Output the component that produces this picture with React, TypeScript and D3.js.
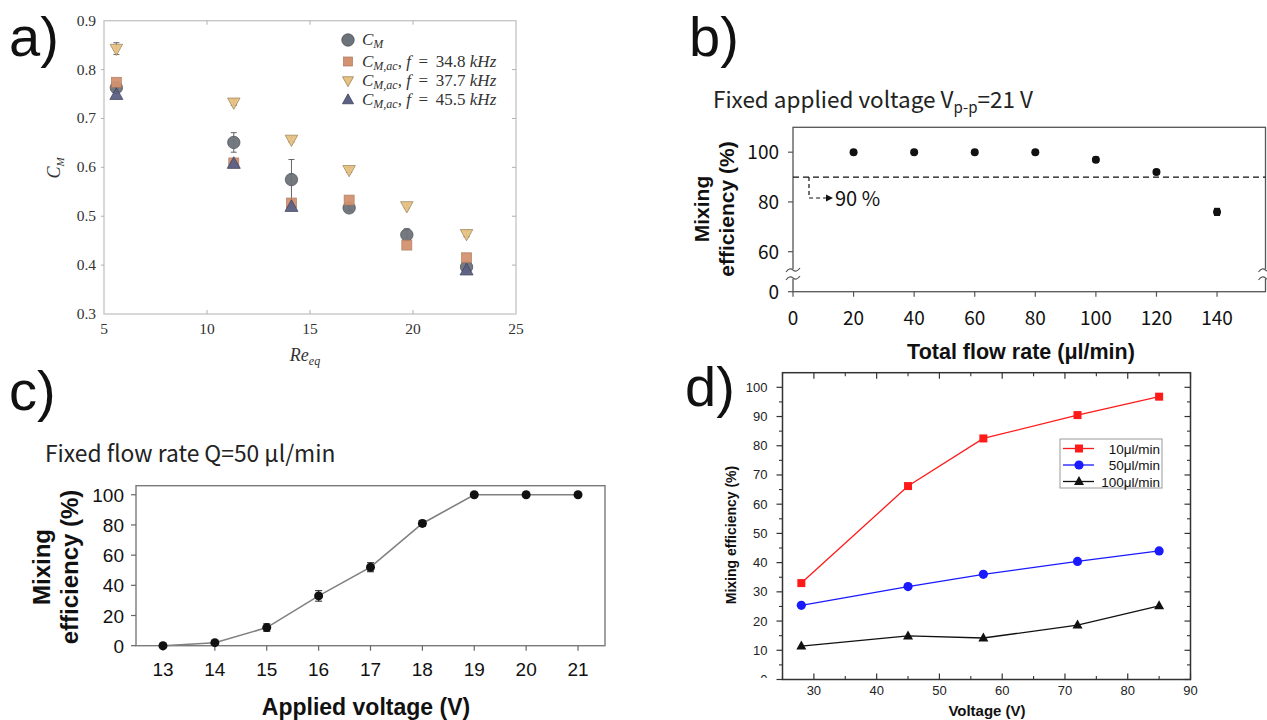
import React from 'react';
import * as d3 from 'd3';

// ---------- Panel a data ----------
const reA = [5.6, 11.3, 14.1, 16.9, 19.7, 22.6];
const cmVals = [0.763, 0.651, 0.575, 0.517, 0.462, 0.396];
const cmErr = [0.008, 0.02, 0.041, 0.005, 0.012, 0.008];
const ac348 = [0.774, 0.609, 0.527, 0.533, 0.441, 0.415];
const ac377 = [0.843, 0.733, 0.657, 0.595, 0.521, 0.464];
const ac377Err = [0.012, 0.006, 0.005, 0.005, 0.004, 0.006];
const ac455: (number | null)[] = [0.748, 0.607, 0.519, null, null, 0.389];
const xTicksA = [5, 10, 15, 20, 25];
const yTicksA = [0.3, 0.4, 0.5, 0.6, 0.7, 0.8, 0.9];
const legendFreqA = ['34.8', '37.7', '45.5'];

// ---------- Panel b data ----------
const flowB = [20, 40, 60, 80, 100, 120, 140];
const effB = [100, 100, 100, 100, 97, 92, 76];
const errB = [0.5, 0.5, 0.5, 0.5, 1.0, 0.8, 1.4];
const xTicksB = [0, 20, 40, 60, 80, 100, 120, 140];
const yTicksB = [0, 60, 80, 100];
const thresholdB = 90;

// ---------- Panel c data ----------
const voltC = [13, 14, 15, 16, 17, 18, 19, 20, 21];
const effC = [0, 2, 12, 33, 52, 81, 100, 100, 100];
const errC = [0.5, 1, 2.5, 3.5, 3, 2, 0.5, 0.5, 0.5];
const yTicksC = [0, 20, 40, 60, 80, 100];

// ---------- Panel d data ----------
const voltD = [28, 45, 57, 72, 85];
const eff10 = [33.0, 66.2, 82.5, 90.5, 96.8];
const eff50 = [25.4, 31.8, 36.0, 40.4, 44.0];
const eff100 = [11.4, 14.9, 14.2, 18.6, 25.2];
const legendD = ['10\u03bcl/min', '50\u03bcl/min', '100\u03bcl/min'];
const xTicksD = [30, 40, 50, 60, 70, 80, 90];
const yTicksD = [0, 10, 20, 30, 40, 50, 60, 70, 80, 90, 100];

const SERIF = '"Liberation Serif", "DejaVu Serif", serif';
const KR = '"Noto Sans CJK KR", "Noto Sans", sans-serif';
const ARIAL = '"Liberation Sans", Arial, sans-serif';

function tri(x: number, y: number, w: number, down = false) {
  const h = w * 0.9;
  const s = down ? -1 : 1;
  return `M${x},${y - s * h * 0.62}L${x + w / 2},${y + s * h * 0.38}L${x - w / 2},${y + s * h * 0.38}Z`;
}

function PanelA() {
  const x = d3.scaleLinear().domain([5, 25]).range([104, 516]);
  const y = d3.scaleLinear().domain([0.3, 0.9]).range([314, 20.7]);
  const [x0, x1] = x.range();
  const [y0, y1] = y.range();
  const cCol = '#6d737a', sCol = '#d3926f', dCol = '#e8c283', uCol = '#5c6186';
  const errBar = (xv: number, lo: number, hi: number, key: string) => (
    <g key={key} stroke="#555" strokeWidth={0.9}>
      <line x1={x(xv)} x2={x(xv)} y1={y(lo)} y2={y(hi)} />
      <line x1={x(xv) - 3} x2={x(xv) + 3} y1={y(hi)} y2={y(hi)} />
      <line x1={x(xv) - 3} x2={x(xv) + 3} y1={y(lo)} y2={y(lo)} />
    </g>
  );
  const legendRows = [
    { k: 'c', yy: 40, f: '' },
    { k: 's', yy: 61.5, f: legendFreqA[0] },
    { k: 'd', yy: 80.5, f: legendFreqA[1] },
    { k: 'u', yy: 100, f: legendFreqA[2] },
  ];
  const lx = 348;
  return (
    <g>
      <rect x={x0} y={y1} width={x1 - x0} height={y0 - y1} fill="white" stroke="#c4c4c4" strokeWidth={1.3} />
      {xTicksA.slice(1, -1).map(t => (
        <g key={'xt' + t} stroke="#b0b0b0" strokeWidth={1}>
          <line x1={x(t)} x2={x(t)} y1={y0} y2={y0 - 4} />
          <line x1={x(t)} x2={x(t)} y1={y1} y2={y1 + 4} />
        </g>
      ))}
      {yTicksA.slice(1, -1).map(t => (
        <g key={'yt' + t} stroke="#b0b0b0" strokeWidth={1}>
          <line x1={x0} x2={x0 - 3} y1={y(t)} y2={y(t)} />
          <line x1={x1} x2={x1 - 4} y1={y(t)} y2={y(t)} />
        </g>
      ))}
      {xTicksA.map(t => (
        <text key={'xl' + t} x={x(t)} y={334} textAnchor="middle" fontFamily={SERIF} fontSize={15.5} fill="#333">{t}</text>
      ))}
      {yTicksA.map(t => (
        <text key={'yl' + t} x={96} y={y(t) + 5} textAnchor="end" fontFamily={SERIF} fontSize={15.5} fill="#333">{t.toFixed(1)}</text>
      ))}
      <text transform={`translate(60,168) rotate(-90)`} textAnchor="middle" fontFamily={SERIF} fontSize={18} fontStyle="italic" fill="#333">
        C<tspan dy={4} fontSize={11}>M</tspan>
      </text>
      <text x={305} y={361} textAnchor="middle" fontFamily={SERIF} fontSize={18} fontStyle="italic" fill="#333">
        Re<tspan dy={4} fontSize={12}>eq</tspan>
      </text>
      {reA.map((r, i) => errBar(r, cmVals[i] - cmErr[i], cmVals[i] + cmErr[i], 'ce' + i))}
      {reA.map((r, i) => errBar(r, ac377[i] - ac377Err[i], ac377[i] + ac377Err[i], 'de' + i))}
      {reA.map((r, i) => (
        <circle key={'c' + i} cx={x(r)} cy={y(cmVals[i])} r={6.2} fill={cCol} stroke="#4a4e55" strokeWidth={0.8} opacity={0.95} />
      ))}
      {reA.map((r, i) => (
        <rect key={'s' + i} x={x(r) - 5} y={y(ac348[i]) - 5} width={10} height={10} fill={sCol} stroke="#a8785f" strokeWidth={0.7} opacity={0.95} />
      ))}
      {reA.map((r, i) => (
        <path key={'d' + i} d={tri(x(r), y(ac377[i]), 12.5, true)} fill={dCol} stroke="#9c8457" strokeWidth={0.8} opacity={0.95} />
      ))}
      {reA.map((r, i) => {
        const v = ac455[i];
        if (v === null) return null;
        return <path key={'u' + i} d={tri(x(r), y(v), 13)} fill={uCol} stroke="#3d4058" strokeWidth={0.8} opacity={0.95} />;
      })}
      {legendRows.map(row => (
        <g key={row.k}>
          {row.k === 'c' && <circle cx={lx} cy={row.yy} r={6.2} fill={cCol} stroke="#4a4e55" strokeWidth={0.8} />}
          {row.k === 's' && <rect x={lx - 4.5} y={row.yy - 4.5} width={9} height={9} fill={sCol} stroke="#a8785f" strokeWidth={0.7} />}
          {row.k === 'd' && <path d={tri(lx, row.yy, 11, true)} fill={dCol} stroke="#9c8457" strokeWidth={0.8} />}
          {row.k === 'u' && <path d={tri(lx, row.yy, 11)} fill={uCol} stroke="#3d4058" strokeWidth={0.8} />}
          <text x={362} y={row.yy + 5} fontFamily={SERIF} fontSize={17} fill="#333">
            <tspan fontStyle="italic">C</tspan>
            {row.k === 'c' ? (
              <tspan dy={3} fontSize={12} fontStyle="italic">M</tspan>
            ) : (
              <>
                <tspan dy={3} fontSize={12} fontStyle="italic">M,ac</tspan>
                <tspan dy={-3}>, </tspan>
                <tspan fontStyle="italic">f</tspan>
                <tspan>{'\u2009 = \u2009'}{row.f} </tspan>
                <tspan fontStyle="italic">kHz</tspan>
              </>
            )}
          </text>
        </g>
      ))}
    </g>
  );
}

function PanelB() {
  const x = d3.scaleLinear().domain([0, 156]).range([793, 1265.5]);
  const y = d3.scaleLinear().domain([0, 60, 110]).range([291.7, 251.7, 127.3]);
  const left = 793, right = 1265.5, top = 127.3, bottom = 291.7;
  const breakY = 274;
  const wave = (cx: number, cy: number) => `M${cx - 7},${cy + 2} q3.5,-5 7,-2 t7,-2`;
  return (
    <g>
      <rect x={left} y={top} width={right - left} height={bottom - top} fill="white" stroke="#555" strokeWidth={1.3} />
      <rect x={left - 2} y={breakY - 5} width={4} height={10} fill="white" />
      <rect x={right - 2} y={breakY - 5} width={4} height={10} fill="white" />
      {[left, right].map(bx => (
        <g key={'br' + bx} fill="none" stroke="#555" strokeWidth={1.1}>
          <path d={wave(bx, breakY - 4)} />
          <path d={wave(bx, breakY + 4)} />
        </g>
      ))}
      {xTicksB.map(t => (
        <g key={'xt' + t}>
          <line x1={x(t)} x2={x(t)} y1={bottom} y2={bottom + 5} stroke="#555" strokeWidth={1.2} />
          <text x={x(t)} y={325} textAnchor="middle" fontFamily={KR} fontSize={19} fill="#111">{t}</text>
        </g>
      ))}
      {yTicksB.map(t => (
        <g key={'yt' + t}>
          <line x1={left} x2={left - 5} y1={y(t)} y2={y(t)} stroke="#555" strokeWidth={1.2} />
          <text x={779} y={y(t) + 7} textAnchor="end" fontFamily={KR} fontSize={19} fill="#111">{t}</text>
        </g>
      ))}
      <line x1={left} x2={right} y1={y(thresholdB)} y2={y(thresholdB)} stroke="#111" strokeWidth={1.3} strokeDasharray="6,4" />
      <path d={`M809,${y(thresholdB)}V198H827`} fill="none" stroke="#111" strokeWidth={1.2} strokeDasharray="4,3" />
      <path d="M826,194.5L833,198L826,201.5Z" fill="#111" />
      <text x={835} y={206} fontFamily={KR} fontSize={20} fill="#111">{thresholdB} %</text>
      {flowB.map((f, i) => (
        <g key={'p' + i}>
          <line x1={x(f)} x2={x(f)} y1={y(effB[i] - errB[i])} y2={y(effB[i] + errB[i])} stroke="#111" strokeWidth={1.2} />
          <line x1={x(f) - 3} x2={x(f) + 3} y1={y(effB[i] - errB[i])} y2={y(effB[i] - errB[i])} stroke="#111" strokeWidth={1.2} />
          <line x1={x(f) - 3} x2={x(f) + 3} y1={y(effB[i] + errB[i])} y2={y(effB[i] + errB[i])} stroke="#111" strokeWidth={1.2} />
          <circle cx={x(f)} cy={y(effB[i])} r={4} fill="#111" />
        </g>
      ))}
      <text x={713} y={108} fontFamily={KR} fontSize={22.5} fill="#222">
        Fixed applied voltage V<tspan dy={5} fontSize={15}>p-p</tspan><tspan dy={-5}>=21 V</tspan>
      </text>
      <text transform="translate(709,209) rotate(-90)" textAnchor="middle" fontFamily={ARIAL} fontWeight="bold" fontSize={21} fill="#111">Mixing</text>
      <text transform="translate(734,209) rotate(-90)" textAnchor="middle" fontFamily={ARIAL} fontWeight="bold" fontSize={21} fill="#111">efficiency (%)</text>
      <text x={1021} y={359} textAnchor="middle" fontFamily={ARIAL} fontWeight="bold" fontSize={21.5} fill="#111">Total flow rate (μl/min)</text>
    </g>
  );
}

function PanelC() {
  const x = d3.scaleLinear().domain([12.48, 21.52]).range([136, 605]);
  const y = d3.scaleLinear().domain([0, 106]).range([645.7, 485.7]);
  const [left, right] = x.range();
  const [bottom, top] = y.range();
  const line = d3.line<number>().x((_, i) => x(voltC[i])).y(d => y(d));
  return (
    <g>
      <rect x={left} y={top} width={right - left} height={bottom - top} fill="white" stroke="#7a7a7a" strokeWidth={1.4} />
      {voltC.map(t => (
        <g key={'xt' + t}>
          <line x1={x(t)} x2={x(t)} y1={bottom} y2={bottom + 5} stroke="#666" strokeWidth={1.2} />
          <text x={x(t)} y={676} textAnchor="middle" fontFamily={ARIAL} fontSize={19} fill="#111">{t}</text>
        </g>
      ))}
      {yTicksC.map(t => (
        <g key={'yt' + t}>
          <line x1={left} x2={left - 5} y1={y(t)} y2={y(t)} stroke="#666" strokeWidth={1.2} />
          <text x={124} y={y(t) + 7} textAnchor="end" fontFamily={ARIAL} fontSize={19} fill="#111">{t}</text>
        </g>
      ))}
      <path d={line(effC) || ''} fill="none" stroke="#808080" strokeWidth={1.6} />
      {voltC.map((v, i) => (
        <g key={'p' + i} stroke="#333" strokeWidth={1.1}>
          <line x1={x(v)} x2={x(v)} y1={y(effC[i] - errC[i])} y2={y(effC[i] + errC[i])} />
          <line x1={x(v) - 3.5} x2={x(v) + 3.5} y1={y(effC[i] - errC[i])} y2={y(effC[i] - errC[i])} />
          <line x1={x(v) - 3.5} x2={x(v) + 3.5} y1={y(effC[i] + errC[i])} y2={y(effC[i] + errC[i])} />
          <circle cx={x(v)} cy={y(effC[i])} r={4.5} fill="#111" stroke="none" />
        </g>
      ))}
      <text x={45} y={462} fontFamily={KR} fontSize={22.8} fill="#222">Fixed flow rate Q=50 μl/min</text>
      <text transform="translate(50,567) rotate(-90)" textAnchor="middle" fontFamily={ARIAL} fontWeight="bold" fontSize={24} fill="#111">Mixing</text>
      <text transform="translate(78,567) rotate(-90)" textAnchor="middle" fontFamily={ARIAL} fontWeight="bold" fontSize={24} fill="#111">efficiency (%)</text>
      <text x={366} y={715} textAnchor="middle" fontFamily={ARIAL} fontWeight="bold" fontSize={23} fill="#111">Applied voltage (V)</text>
    </g>
  );
}

function PanelD() {
  const x = d3.scaleLinear().domain([25, 90]).range([782.5, 1190.5]);
  const y = d3.scaleLinear().domain([0, 105]).range([679.5, 372.7]);
  const [left, right] = x.range();
  const [bottom, top] = y.range();
  const mk = (vals: number[]) => d3.line<number>().x((_, i) => x(voltD[i])).y(d => y(d))(vals) || '';
  const minorX = d3.range(25, 91, 5).filter(v => v % 10 !== 0);
  const minorY = d3.range(5, 105, 10);
  const series = [
    { vals: eff10, color: '#ff1a1a', kind: 'sq' },
    { vals: eff50, color: '#1a1aff', kind: 'ci' },
    { vals: eff100, color: '#111', kind: 'tr' },
  ];
  const marker = (kind: string, cx: number, cy: number, color: string, key: string) => {
    if (kind === 'sq') return <rect key={key} x={cx - 4} y={cy - 4} width={8} height={8} fill={color} />;
    if (kind === 'ci') return <circle key={key} cx={cx} cy={cy} r={4.6} fill={color} />;
    return <path key={key} d={tri(cx, cy, 10)} fill={color} />;
  };
  return (
    <g>
      <defs>
        <clipPath id="clipD">
          <rect x={700} y={360} width={90} height={318} />
        </clipPath>
      </defs>
      <rect x={left} y={top} width={right - left} height={bottom - top} fill="white" stroke="#333" strokeWidth={1.5} />
      {xTicksD.map(t => (
        <g key={'xt' + t}>
          <line x1={x(t)} x2={x(t)} y1={bottom} y2={bottom - 6} stroke="#333" strokeWidth={1.2} />
          <line x1={x(t)} x2={x(t)} y1={top} y2={top + 6} stroke="#333" strokeWidth={1.2} />
          <text x={x(t)} y={695} textAnchor="middle" fontFamily={ARIAL} fontSize={13} fill="#222">{t}</text>
        </g>
      ))}
      {minorX.map(t => (
        <g key={'mx' + t} stroke="#333" strokeWidth={1.1}>
          <line x1={x(t)} x2={x(t)} y1={bottom} y2={bottom - 3.5} />
          <line x1={x(t)} x2={x(t)} y1={top} y2={top + 3.5} />
        </g>
      ))}
      {yTicksD.map(t => (
        <g key={'yt' + t}>
          <line x1={left} x2={left - 6} y1={y(t)} y2={y(t)} stroke="#333" strokeWidth={1.2} />
          <line x1={right} x2={right - 6} y1={y(t)} y2={y(t)} stroke="#333" strokeWidth={1.2} />
        </g>
      ))}
      {minorY.map(t => (
        <g key={'my' + t} stroke="#333" strokeWidth={1.1}>
          <line x1={left} x2={left - 3.5} y1={y(t)} y2={y(t)} />
          <line x1={right} x2={right - 3.5} y1={y(t)} y2={y(t)} />
        </g>
      ))}
      <g clipPath="url(#clipD)">
        {yTicksD.map(t => (
          <text key={'yl' + t} x={767.5} y={y(t) + 4.5} textAnchor="end" fontFamily={ARIAL} fontSize={13} fill="#222">{t}</text>
        ))}
      </g>
      {series.map((s, si) => (
        <g key={'s' + si}>
          <path d={mk(s.vals)} fill="none" stroke={s.color} strokeWidth={1.3} />
          {s.vals.map((v, i) => marker(s.kind, x(voltD[i]), y(v), s.color, 'm' + si + '-' + i))}
        </g>
      ))}
      <rect x={1060} y={439} width={102} height={49} fill="white" stroke="#999" strokeWidth={1} />
      {series.map((s, si) => {
        const ly = 448.5 + si * 16.5;
        return (
          <g key={'lg' + si}>
            <line x1={1063} x2={1094} y1={ly} y2={ly} stroke={s.color} strokeWidth={1.3} />
            {marker(s.kind, 1079, ly, s.color, 'lm' + si)}
            <text x={1160} y={ly + 5} textAnchor="end" fontFamily={ARIAL} fontSize={13.5} fill="#111">{legendD[si]}</text>
          </g>
        );
      })}
      <text transform="translate(736,535) rotate(-90)" textAnchor="middle" fontFamily={ARIAL} fontWeight="bold" fontSize={14} fill="#111">Mixing efficiency (%)</text>
      <text x={987} y={716} textAnchor="middle" fontFamily={ARIAL} fontWeight="bold" fontSize={15} fill="#111">Voltage (V)</text>
    </g>
  );
}

const PANEL_FONT = '"Liberation Sans", Arial, sans-serif';

export default function App() {
  return (
    <svg width={1267} height={720} viewBox="0 0 1267 720" style={{ position: 'absolute', left: 0, top: 0, background: 'white' }}>
      <rect width={1267} height={720} fill="white" />
      <PanelA />
      <PanelB />
      <PanelC />
      <PanelD />
      <text x={9} y={56} fontFamily={PANEL_FONT} fontSize={56} fill="#111">a)</text>
      <text x={689} y={56} fontFamily={PANEL_FONT} fontSize={56} fill="#111">b)</text>
      <text x={9} y={410} fontFamily={PANEL_FONT} fontSize={56} fill="#111">c)</text>
      <text x={685} y={406} fontFamily={PANEL_FONT} fontSize={56} fill="#111">d)</text>
    </svg>
  );
}
